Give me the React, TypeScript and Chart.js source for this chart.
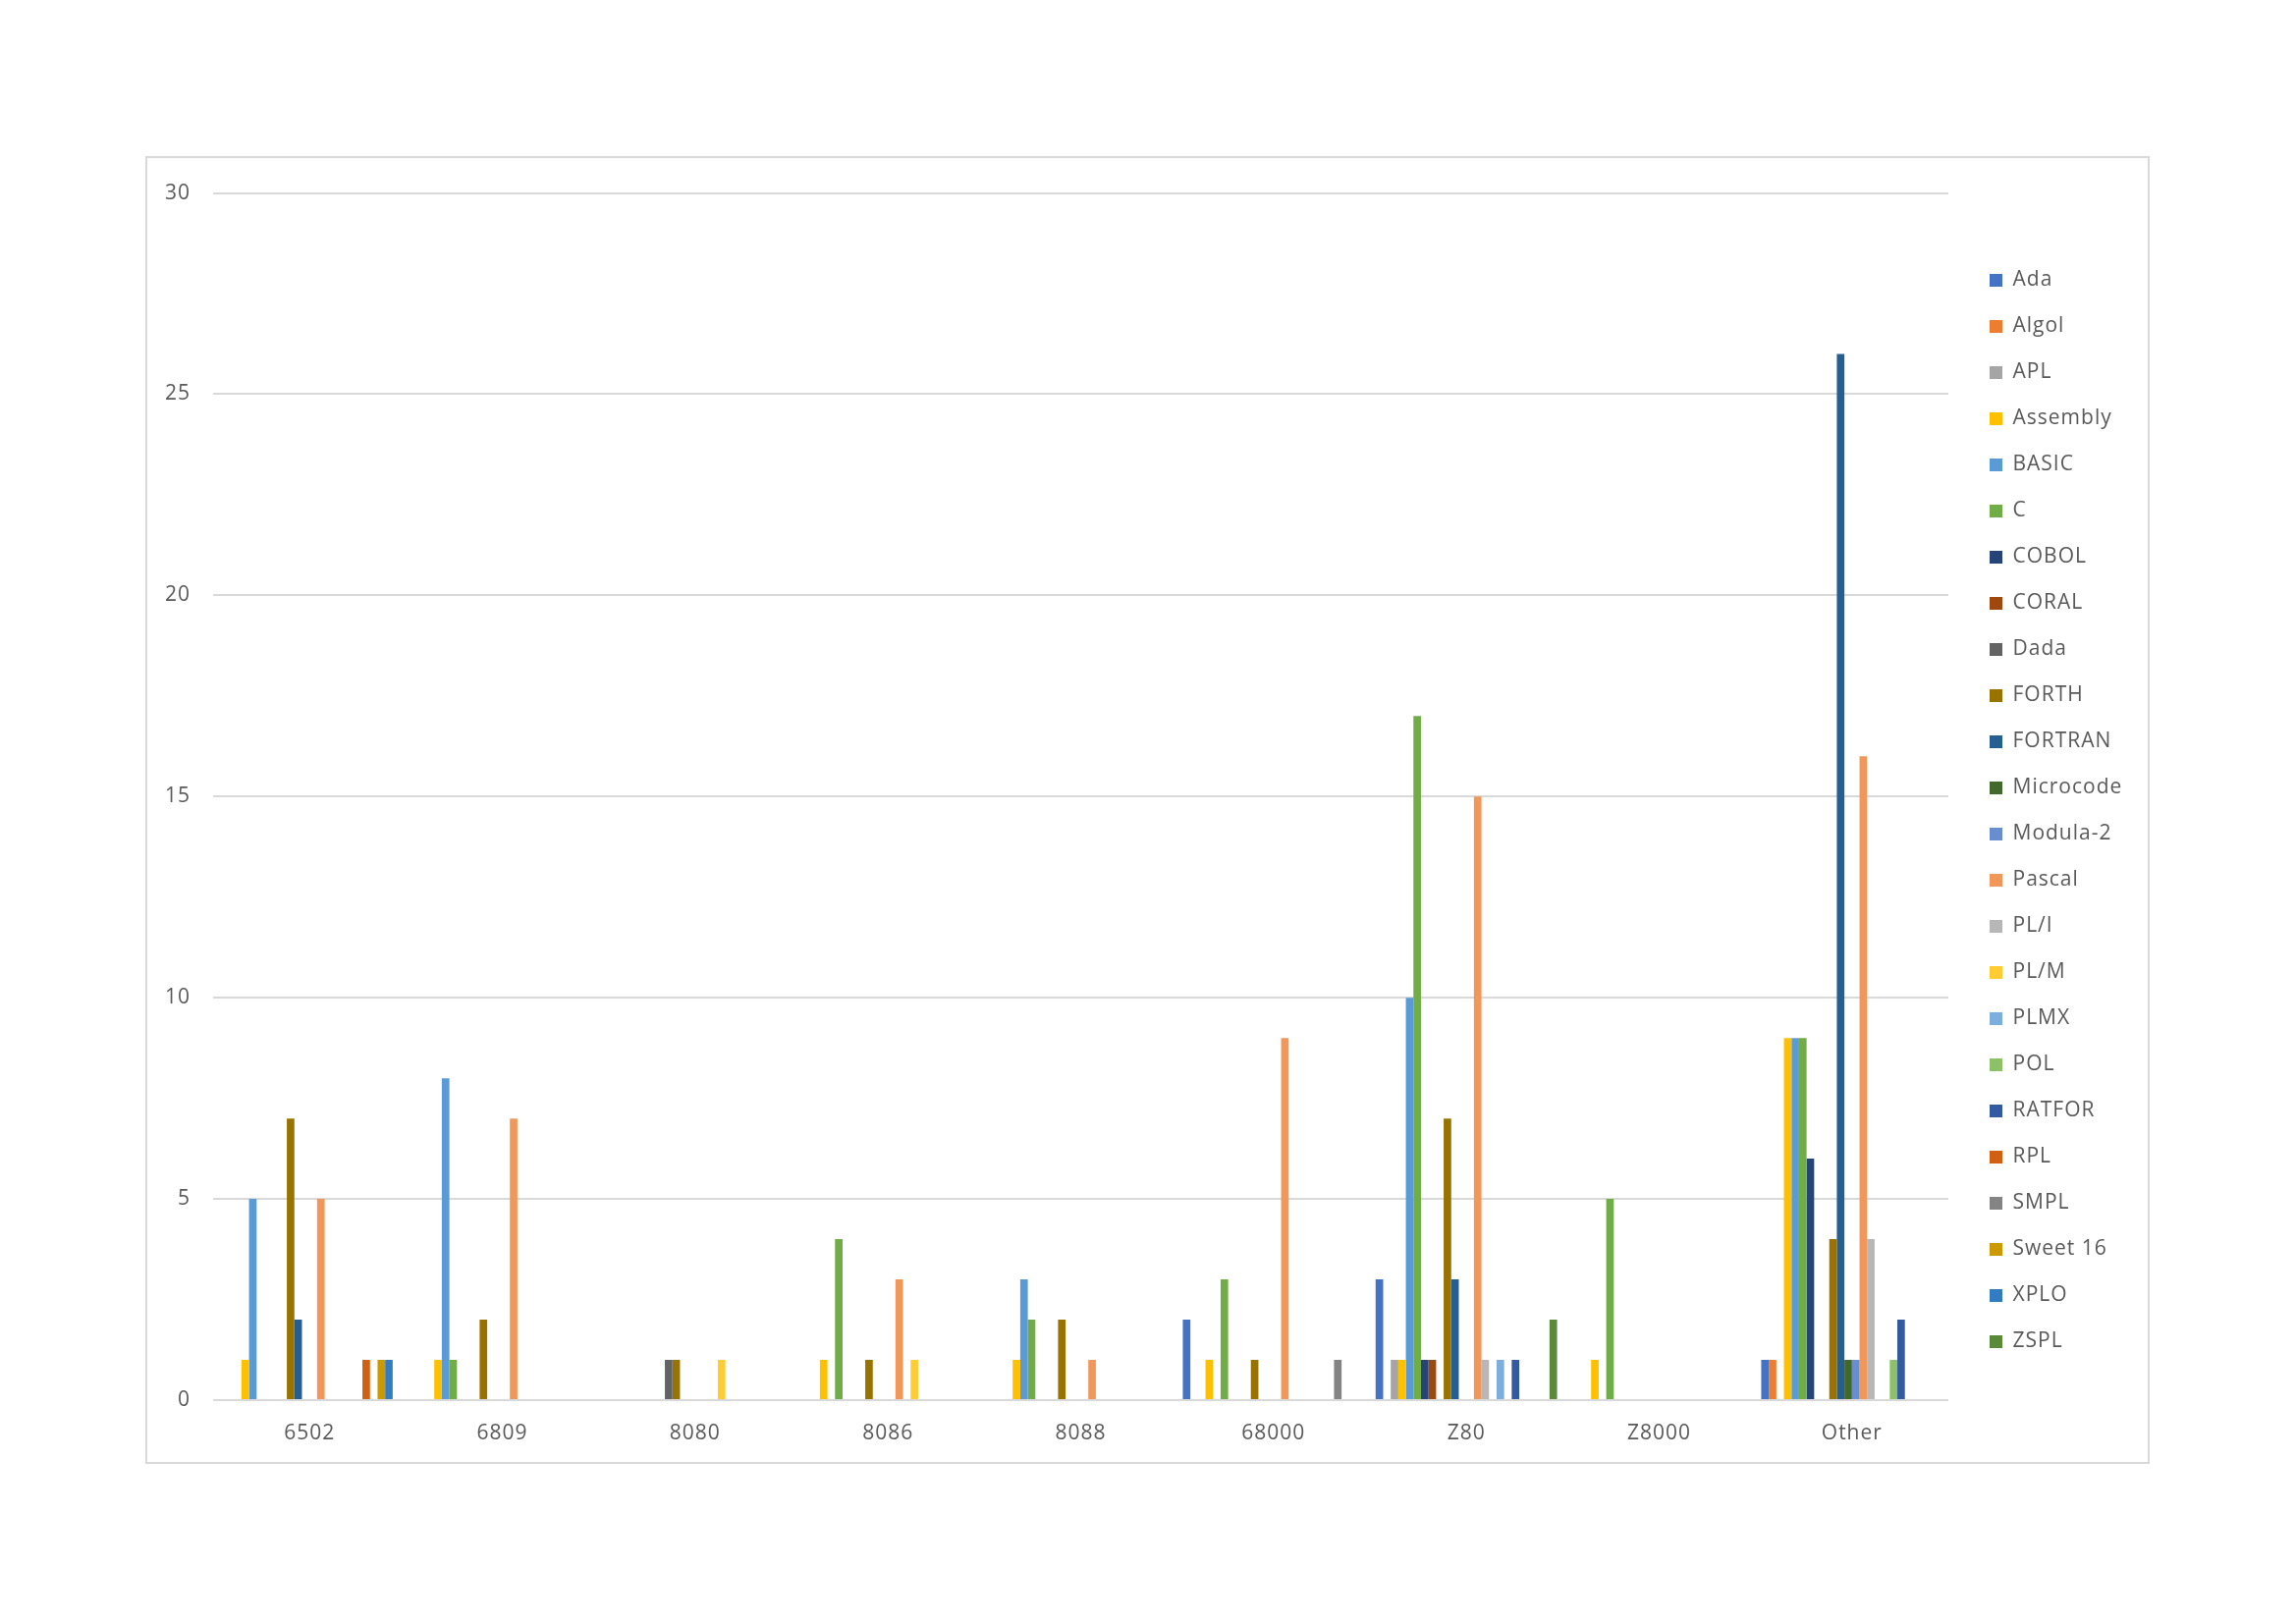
import React, { useEffect, useRef } from 'react';
import { Chart, registerables } from 'chart.js';

Chart.register(...registerables);

// ---------- data ----------
const categories = ['6502', '6809', '8080', '8086', '8088', '68000', 'Z80', 'Z8000', 'Other'];

const seriesNames = [
  'Ada', 'Algol', 'APL', 'Assembly', 'BASIC', 'C', 'COBOL', 'CORAL', 'Dada', 'FORTH', 'FORTRAN', 'Microcode',
  'Modula-2', 'Pascal', 'PL/I', 'PL/M', 'PLMX', 'POL', 'RATFOR', 'RPL', 'SMPL', 'Sweet 16', 'XPLO', 'ZSPL',
];

//                   6502 6809 8080 8086 8088 68000 Z80 Z8000 Other
const ada =         [0, 0, 0, 0, 0, 2, 3, 0, 1];
const algol =       [0, 0, 0, 0, 0, 0, 0, 0, 1];
const apl =         [0, 0, 0, 0, 0, 0, 1, 0, 0];
const assembly =    [1, 1, 0, 1, 1, 1, 1, 1, 9];
const basic =       [5, 8, 0, 0, 3, 0, 10, 0, 9];
const cLang =       [0, 1, 0, 4, 2, 3, 17, 5, 9];
const cobol =       [0, 0, 0, 0, 0, 0, 1, 0, 6];
const coral =       [0, 0, 0, 0, 0, 0, 1, 0, 0];
const dada =        [0, 0, 1, 0, 0, 0, 0, 0, 0];
const forth =       [7, 2, 1, 1, 2, 1, 7, 0, 4];
const fortran =     [2, 0, 0, 0, 0, 0, 3, 0, 26];
const microcode =   [0, 0, 0, 0, 0, 0, 0, 0, 1];
const modula2 =     [0, 0, 0, 0, 0, 0, 0, 0, 1];
const pascal =      [5, 7, 0, 3, 1, 9, 15, 0, 16];
const pli =         [0, 0, 0, 0, 0, 0, 1, 0, 4];
const plm =         [0, 0, 1, 1, 0, 0, 0, 0, 0];
const plmx =        [0, 0, 0, 0, 0, 0, 1, 0, 0];
const pol =         [0, 0, 0, 0, 0, 0, 0, 0, 1];
const ratfor =      [0, 0, 0, 0, 0, 0, 1, 0, 2];
const rpl =         [1, 0, 0, 0, 0, 0, 0, 0, 0];
const smpl =        [0, 0, 0, 0, 0, 1, 0, 0, 0];
const sweet16 =     [1, 0, 0, 0, 0, 0, 0, 0, 0];
const xplo =        [1, 0, 0, 0, 0, 0, 0, 0, 0];
const zspl =        [0, 0, 0, 0, 0, 0, 2, 0, 0];

const seriesValues = [
  ada, algol, apl, assembly, basic, cLang, cobol, coral, dada, forth, fortran, microcode,
  modula2, pascal, pli, plm, plmx, pol, ratfor, rpl, smpl, sweet16, xplo, zspl,
];

const yMax = 30;
const yStep = 5;

// ---------- styles ----------
const ACCENTS = ['#4472C4', '#ED7D31', '#A5A5A5', '#FFC000', '#5B9BD5', '#70AD47'];
const VARIANTS: [number, number][] = [[1, 0], [0.6, 0], [0.8, 0.2], [0.8, 0]];

function shade(hex: string, mod: number, off: number): string {
  const r = parseInt(hex.slice(1, 3), 16) / 255;
  const g = parseInt(hex.slice(3, 5), 16) / 255;
  const b = parseInt(hex.slice(5, 7), 16) / 255;
  const mx = Math.max(r, g, b), mn = Math.min(r, g, b);
  let h = 0, s = 0;
  let l = (mx + mn) / 2;
  const d = mx - mn;
  if (d > 0) {
    s = l > 0.5 ? d / (2 - mx - mn) : d / (mx + mn);
    if (mx === r) h = ((g - b) / d + (g < b ? 6 : 0));
    else if (mx === g) h = (b - r) / d + 2;
    else h = (r - g) / d + 4;
    h *= 60;
  }
  l = Math.min(1, l * mod + off);
  const c = (1 - Math.abs(2 * l - 1)) * s;
  const hp = h / 60;
  const x = c * (1 - Math.abs((hp % 2) - 1));
  let rr = 0, gg = 0, bb = 0;
  if (hp < 1) [rr, gg, bb] = [c, x, 0];
  else if (hp < 2) [rr, gg, bb] = [x, c, 0];
  else if (hp < 3) [rr, gg, bb] = [0, c, x];
  else if (hp < 4) [rr, gg, bb] = [0, x, c];
  else if (hp < 5) [rr, gg, bb] = [x, 0, c];
  else [rr, gg, bb] = [c, 0, x];
  const m = l - c / 2;
  const toHex = (v: number) => Math.round((v + m) * 255).toString(16).padStart(2, '0');
  return '#' + toHex(rr) + toHex(gg) + toHex(bb);
}

const seriesColors = seriesNames.map((_, i) => {
  const [mod, off] = VARIANTS[Math.floor(i / 6)];
  return shade(ACCENTS[i % 6], mod, off);
});

const TEXT = '#595959';
const GRID = '#D9D9D9';
const FONT = "'Open Sans', 'Noto Sans', sans-serif";

const spacingPlugin = {
  id: 'spacing',
  beforeUpdate(chart: any) { chart.ctx.letterSpacing = '1px'; },
  beforeDraw(chart: any) { chart.ctx.letterSpacing = '1px'; },
};

const legendNudge = {
  id: 'legendNudge',
  afterLayout(chart: any) {
    const lg = chart.legend;
    if (!lg) return;
    lg.left += 16;
    lg.top -= 12;
    lg.bottom -= 12;
    lg.right = chart.width;
    lg.width = lg.right - lg.left;
  },
};

export default function App() {
  const ref = useRef<HTMLCanvasElement | null>(null);

  useEffect(() => {
    if (!ref.current) return;
    const chart = new Chart(ref.current, {
      type: 'bar',
      data: {
        labels: categories,
        datasets: seriesNames.map((name, i) => ({
          label: name,
          data: seriesValues[i],
          backgroundColor: seriesColors[i],
          borderWidth: 0,
          categoryPercentage: 24 / 25.5,
          barPercentage: 1,
        })),
      },
      options: {
        animation: false,
        responsive: false,
        devicePixelRatio: 1,
        layout: { padding: { top: 26, right: 83, bottom: 0, left: 0 } },
        font: { family: FONT },
        plugins: {
          tooltip: { enabled: false },
          title: { display: false },
          legend: {
            display: true,
            position: 'right',
            align: 'center',
            maxWidth: 120,
            labels: {
              boxWidth: 13,
              boxHeight: 13,
              padding: 26,
              color: TEXT,
              font: { family: FONT, size: 21 },
            },
          },
        },
        scales: {
          x: {
            grid: { display: false, drawTicks: false },
            border: { display: false },
            ticks: { color: TEXT, font: { family: FONT, size: 21 }, padding: 21, maxRotation: 0 },
            afterFit: (s: any) => { s.height = 63; },
          },
          y: {
            min: 0,
            max: yMax,
            grid: { color: GRID, lineWidth: 2, drawTicks: false },
            border: { display: false },
            ticks: { stepSize: yStep, color: TEXT, font: { family: FONT, size: 21 }, padding: 23 },
            afterFit: (s: any) => { s.width = 67; },
          },
        },
      },
      plugins: [spacingPlugin, legendNudge],
    } as any);
    return () => chart.destroy();
  }, []);

  return (
    <div style={{ position: 'absolute', left: 0, top: 0, width: 2338, height: 1653, background: '#fff' }}>
      <div
        style={{
          position: 'absolute',
          left: 148,
          top: 159,
          width: 2037,
          height: 1328,
          border: '2px solid ' + GRID,
        }}
      >
        <canvas ref={ref} width={2037} height={1328} style={{ display: 'block', width: 2037, height: 1328 }} />
      </div>
    </div>
  );
}
